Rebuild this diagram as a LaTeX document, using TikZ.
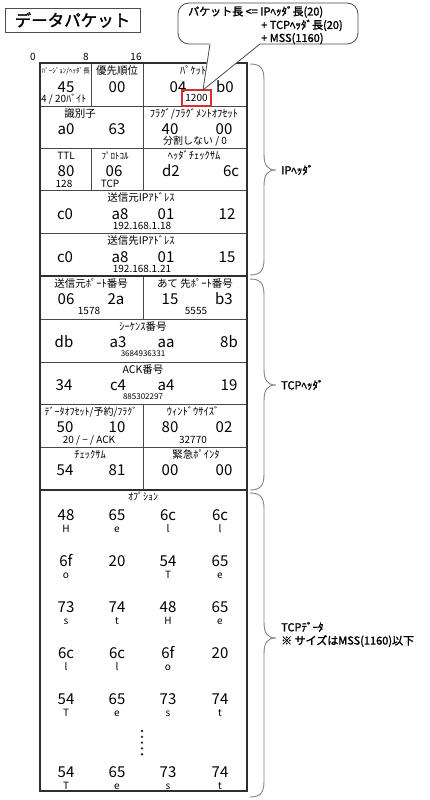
\documentclass[tikz,border=0pt]{standalone}
\usepackage{fontspec}
\setmainfont{Noto Sans CJK JP}
\newfontfamily\jpbold{Noto Sans CJK JP}[FakeBold=1.6]
\newcommand\fsz[1]{\fontsize{#1}{#1}\selectfont}
\definecolor{boxred}{RGB}{214,48,48}

% one row of hex bytes: name prefix, y, list of x/value
\newcommand\hexrow[3]{%
  \foreach \xx/\hv [count=\ii] in {#3} {\node[hex] (#1\ii) at (\xx,#2) {\hv};}}
% one row of payload bytes with the character underneath
\newcommand\datarow[3]{%
  \foreach \xx/\hv/\cv [count=\ii] in {#3} {%
    \node[hex] (#1h\ii) at (\xx,#2) {\hv};
    \ifx\cv\empty\else\node[note] (#1c\ii) at (\xx,#2+13.5) {\cv};\fi}}
% curly brace on the right of the packet, from top to bottom with its tip
\newcommand\bracepath[3]{%
  \draw[brace] (250,#1) .. controls (261,#1) and (264,#1+5) .. (264,#1+16)
    -- (264,#3-16) .. controls (264,#3-5) and (267,#3) .. (276,#3)
    .. controls (267,#3) and (264,#3+5) .. (264,#3+16)
    -- (264,#2-16) .. controls (264,#2-5) and (261,#2) .. (250,#2);}

\begin{document}
\begin{tikzpicture}[x=1pt,y=-1pt,
  hex/.style={anchor=base, yshift=-5.4pt, inner sep=0pt, font=\fsz{15}},
  lbl/.style={anchor=base, yshift=-3.9pt, inner sep=0pt, font=\fsz{10.5}},
  note/.style={anchor=base, yshift=-3.6pt, inner sep=0pt, font=\fsz{10}},
  small/.style={anchor=base, yshift=-2.9pt, inner sep=0pt, font=\fsz{8}},
  tiny/.style={anchor=base, yshift=-2.5pt, inner sep=0pt, font=\fsz{7}},
  grid/.style={draw=black!72, line width=0.8pt},
  frame/.style={draw=black!82, line width=1.8pt},
  brace/.style={draw=black!48, line width=0.9pt},
  blbl/.style={anchor=west, inner sep=0pt, font=\jpbold\fsz{11}},
  bubbletext/.style={anchor=base west, inner sep=0pt, font=\jpbold\fsz{11}},
]
\fill[white] (0,0) rectangle (429,800);
\useasboundingbox (0,0) rectangle (429,800);

% title
\node[draw=black!70, line width=0.8pt, minimum width=135pt, minimum height=24pt,
      inner sep=0pt, font=\jpbold\fsz{16.5}] (title) at (72.5,20) {データパケット};

% bit scale
\node[note] (bit0) at (33,57) {0};
\node[note] (bit8) at (86,57) {8};
\node[note] (bit16) at (136,57) {16};

% ---- table rules ----
\foreach \yy in {106,148,190,233,319,362,404,447} \draw[grid] (40,\yy) -- (247,\yy);
\draw[grid] (91.75,63) -- (91.75,106);
\draw[grid] (91.75,148) -- (91.75,190);
\draw[grid] (143.5,63) -- (143.5,190);
\draw[grid] (143.5,276) -- (143.5,319);
\draw[grid] (143.5,404) -- (143.5,490);
\draw[frame] (40,276) -- (247,276);
\draw[frame] (40,490) -- (247,490);
\draw[frame] (40,63) rectangle (247,791);

% ---- IP header ----
% version / header length, TOS, total length
\node[tiny] (verlbl) at (66,71) {ﾊﾞｰｼﾞｮﾝ/ﾍｯﾀﾞ長};
\node[hex] (ver) at (66,87) {45};
\node[note, anchor=base west] (verval) at (41,99) {4 / 20ﾊﾞｲﾄ};
\node[lbl] (toslbl) at (117,71) {優先順位};
\node[hex] (tos) at (117,87) {00};
\node[lbl, anchor=base west] (lenlbl) at (180,71) {ﾊﾟｹｯﾄ長};
\hexrow{len}{87}{178/04,225/b0}
\node[font=\fsz{10}, draw=boxred, line width=1.4pt, minimum width=29pt,
      minimum height=16pt, inner sep=0pt] (lenval) at (196.5,98) {1200};

% identification, flags / fragment offset
\node[lbl] (idlbl) at (80,114) {識別子};
\hexrow{id}{129}{66/a0,117/63}
\node[lbl] (fraglbl) at (194,114) {ﾌﾗｸﾞ/ﾌﾗｸﾞﾒﾝﾄｵﾌｾｯﾄ};
\hexrow{frag}{129}{170/40,224/00}
\node[note] (fragval) at (195,141) {分割しない / 0};

% TTL, protocol, header checksum
\node[note] (ttllbl) at (66,156) {TTL};
\node[hex] (ttl) at (66,171) {80};
\node[note] (ttlval) at (64,184) {128};
\node[lbl, font=\fsz{9}] (protolbl) at (115,156) {ﾌﾟﾛﾄｺﾙ};
\node[hex] (proto) at (114,171) {06};
\node[note] (protoval) at (110,184) {TCP};
\node[lbl] (sumlbl) at (194,156) {ﾍｯﾀﾞﾁｪｯｸｻﾑ};
\hexrow{sum}{171}{171/d2,231/6c}

% source / destination address
\node[lbl] (srclbl) at (141,198) {送信元IPｱﾄﾞﾚｽ};
\hexrow{src}{214}{65/c0,120/a8,166/01,227/12}
\node[note] (srcval) at (142,226) {192.168.1.18};
\node[lbl] (dstlbl) at (141,241) {送信先IPｱﾄﾞﾚｽ};
\hexrow{dst}{257}{65/c0,120/a8,166/01,227/15}
\node[note] (dstval) at (142,269) {192.168.1.21};

% ---- TCP header ----
\node[lbl] (sportlbl) at (91,284) {送信元ﾎﾟｰﾄ番号};
\hexrow{sport}{299}{66/06,116/2a}
\node[note] (sportval) at (89,311) {1578};
\node[lbl] (dportlbl) at (195,284) {あて 先ﾎﾟｰﾄ番号};
\hexrow{dport}{299}{170/15,224/b3}
\node[note] (dportval) at (196,311) {5555};

\node[lbl] (seqlbl) at (143,327) {ｼｰｹﾝｽ番号};
\hexrow{seq}{342}{64/db,118/a3,166/aa,229/8b}
\node[small] (seqval) at (143,354) {3684936331};

\node[lbl] (acklbl) at (143,370) {ACK番号};
\hexrow{ack}{385}{64/34,118/c4,166/a4,229/19}
\node[small] (ackval) at (143,397) {885302297};

\node[lbl, font=\fsz{10}] (offlbl) at (91,412) {ﾃﾞｰﾀｵﾌｾｯﾄ/予約/ﾌﾗｸﾞ};
\hexrow{off}{427}{65/50,117/10}
\node[note] (offval) at (89,440) {20 / − / ACK};
\node[lbl] (winlbl) at (193,412) {ｳｨﾝﾄﾞｳｻｲｽﾞ};
\hexrow{win}{427}{170/80,224/02}
\node[note] (winval) at (193,440) {32770};

\node[lbl] (cklbl) at (90,455) {ﾁｪｯｸｻﾑ};
\hexrow{ck}{470}{65/54,117/81}
\node[lbl] (urglbl) at (196,455) {緊急ﾎﾟｲﾝﾀ};
\hexrow{urg}{470}{170/00,224/00}

% ---- TCP payload ----
\node[lbl, font=\fsz{10}] (optlbl) at (143,497) {ｵﾌﾟｼｮﾝ};
\datarow{da}{515}{66/48/H,117/65/e,168/6c/l,220/6c/l}
\datarow{db}{561}{66/6f/o,117/20/,168/54/T,220/65/e}
\datarow{dc}{607}{66/73/s,117/74/t,168/48/H,220/65/e}
\datarow{dd}{653}{66/6c/l,117/6c/l,168/6f/o,220/20/}
\datarow{de}{699}{66/54/T,117/65/e,168/73/s,220/74/t}
\foreach \k in {0,...,4} \fill[black!85] (142,731+5.8*\k) circle (1.3);
\datarow{df}{772}{66/54/T,117/65/e,168/73/s,220/74/t}

% ---- callout on the packet length ----
\node[draw=black!70, line width=0.8pt, fill=white, rounded corners=11pt,
      minimum width=180pt, minimum height=41pt, inner sep=0pt] (bubble) at (268,23.5) {};
\coordinate (tailL) at (210,44);
\coordinate (tailR) at (260,44);
\coordinate (tip) at (203,90);
\fill[white] (209.4,43) -- (260.6,43) -- (tip) -- cycle;
\draw[draw=black!70, line width=0.8pt] (tailL) -- (tip) -- (tailR);
\node[bubbletext] (cl1) at (188,15.5) {パケット長 <= IPﾍｯﾀﾞ長(20)};
\node[bubbletext] (cl2) at (261,29) {+ TCPﾍｯﾀﾞ長(20)};
\node[bubbletext] (cl3) at (261,42) {+ MSS(1160)};

% ---- braces ----
\bracepath{64}{275}{170}
\bracepath{279}{490}{385}
\bracepath{493}{797}{638}
\node[blbl] (iphdr) at (281,170) {IPﾍｯﾀﾞ};
\node[blbl] (tcphdr) at (281,385) {TCPﾍｯﾀﾞ};
\node[blbl] (tcpdata) at (281,627) {TCPﾃﾞｰﾀ};
\node[blbl] (tcpnote) at (281,641) {※ サイズはMSS(1160)以下};
\end{tikzpicture}
\end{document}
